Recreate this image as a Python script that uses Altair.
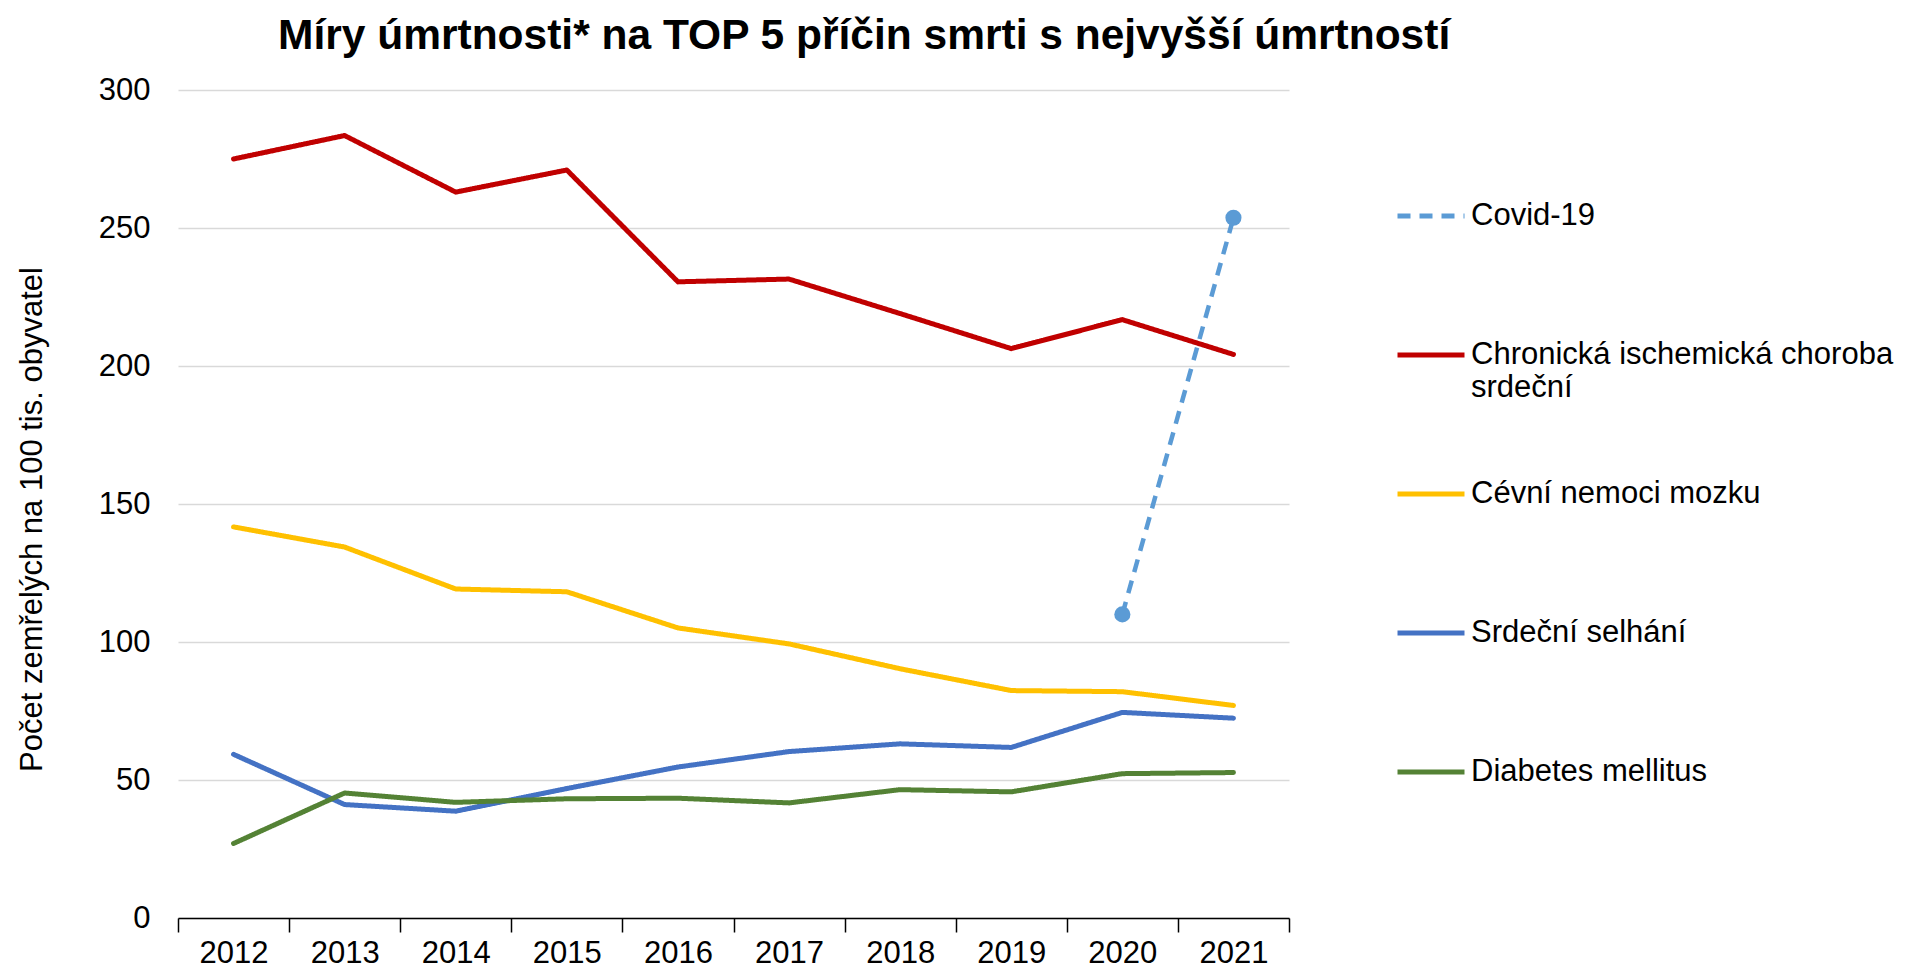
import altair as alt
import pandas as pd

FONT = "Liberation Sans"

years = [2012, 2013, 2014, 2015, 2016, 2017, 2018, 2019, 2020, 2021]
chronic = [275.0, 283.5, 263.0, 271.0, 230.5, 231.5, 219.0, 206.3, 216.8, 204.2]
cevni = [141.7, 134.4, 119.2, 118.2, 105.1, 99.3, 90.3, 82.4, 82.0, 77.0]
srdecni = [59.3, 41.1, 38.7, 46.9, 54.7, 60.3, 63.1, 61.8, 74.5, 72.4]
diabetes = [27.0, 45.3, 41.9, 43.2, 43.4, 41.7, 46.5, 45.7, 52.3, 52.7]
covid_years = [2020, 2021]
covid = [110.0, 253.7]

names = [
    "Covid-19",
    "Chronická ischemická choroba srdeční",
    "Cévní nemoci mozku",
    "Srdeční selhání",
    "Diabetes mellitus",
]
colors = ["#5b9bd5", "#c00000", "#ffc000", "#4472c4", "#548235"]
dashes = [[13, 9], [1, 0], [1, 0], [1, 0], [1, 0]]
y_ticks = [0, 50, 100, 150, 200, 250, 300]
title_text = "Míry úmrtnosti* na TOP 5 příčin smrti s nejvyšší úmrtností"
y_title = "Počet zemřelých na 100 tis. obyvatel"

rows = []
for n, vals in zip(names[1:], [chronic, cevni, srdecni, diabetes]):
    for yr, v in zip(years, vals):
        rows.append({"rok": str(yr), "serie": n, "hodnota": v})
main_df = pd.DataFrame(rows)
covid_df = pd.DataFrame({
    "rok": [str(y) for y in covid_years],
    "serie": [names[0]] * len(covid_years),
    "hodnota": covid,
})

x_enc = alt.X(
    "rok:N",
    title=None,
    bandPosition=0.5,
    scale=alt.Scale(type="band", paddingInner=0, paddingOuter=0,
                    domain=[str(y) for y in years]),
    axis=alt.Axis(
        tickBand="extent", labelAngle=0, grid=False,
        domainColor="black", domainWidth=1.5,
        tickColor="black", tickWidth=1.5, tickSize=14,
        labelPadding=6, labelFont=FONT, labelFontSize=31, labelColor="black",
    ),
)
y_enc = alt.Y(
    "hodnota:Q",
    scale=alt.Scale(domain=[0, 300], nice=False, zero=True),
    axis=alt.Axis(
        values=y_ticks, grid=True, gridColor="#d9d9d9", gridWidth=1.5,
        domain=False, ticks=False, labelPadding=28,
        labelFont=FONT, labelFontSize=31, labelColor="black",
        title=y_title, titleFont=FONT, titleFontSize=31,
        titleFontWeight="normal", titleColor="black",
        titleAngle=270, titleAlign="center", titleBaseline="middle",
        titleX=-146, titleY=429,
    ),
)

legend = alt.Legend(
    title=None, orient="none", legendX=1217, legendY=90,
    direction="vertical", columns=1, gridAlign="all", rowPadding=55,
    symbolType="stroke", symbolSize=4489, symbolStrokeWidth=5,
    labelFont=FONT, labelFontSize=31, labelColor="black", labelLimit=700,
    labelOffset=4, padding=0,
    labelExpr="datum.label == 'Chronická ischemická choroba srdeční' ? "
              "['Chronická ischemická choroba', 'srdeční'] : datum.label",
)

color_enc = alt.Color("serie:N", scale=alt.Scale(domain=names, range=colors), legend=legend)
dash_enc = alt.StrokeDash("serie:N", scale=alt.Scale(domain=names, range=dashes), legend=legend)

main_lines = alt.Chart(main_df).mark_line(strokeWidth=5, strokeJoin="round", strokeCap="round").encode(
    x=x_enc, y=y_enc, color=color_enc, strokeDash=dash_enc
)
covid_line = alt.Chart(covid_df).mark_line(strokeWidth=4.5).encode(
    x=x_enc, y=y_enc, color=color_enc, strokeDash=dash_enc
)
covid_pts = alt.Chart(covid_df).mark_point(filled=True, size=260, opacity=1, shape="circle").encode(
    x=x_enc, y=y_enc, color=alt.value(colors[0])
)

chart = alt.layer(main_lines, covid_line, covid_pts).properties(
    width=1111, height=828,
    title=alt.Title(title_text, font=FONT, fontSize=42.5, fontWeight="bold",
                    color="black", anchor="start", dx=262, offset=17),
    autosize=alt.AutoSizeParams(type="none"),
    padding={"left": 170, "top": 82, "right": 612, "bottom": 52},
).configure_view(stroke=None)

chart.save("out.html", embed_options={"renderer": "svg", "actions": False})
